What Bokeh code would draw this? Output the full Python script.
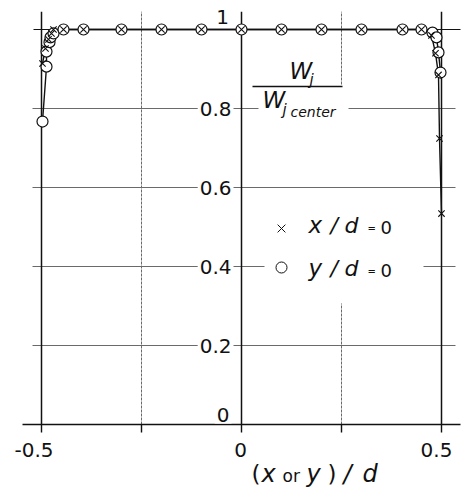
import numpy as np
from bokeh.plotting import figure
from bokeh.models import Label, Range1d
from bokeh.embed import file_html
from bokeh.resources import INLINE

# Jet width ratio W_j / W_j,center across the nozzle
# traverse at x/d = 0 (position is y/d)
xd0_pos = [-0.4975, -0.49, -0.4825, -0.475, -0.47, -0.445, -0.395, -0.3, -0.2, -0.1, 0.0,
           0.1, 0.2, 0.3, 0.4025, 0.45, 0.475, 0.485, 0.4925, 0.495, 0.5]
xd0_w = [0.914, 0.952, 0.975, 0.99, 1.0, 1.0, 1.0, 1.0, 1.0, 1.0, 1.0,
         1.0, 1.0, 1.0, 1.0, 1.0, 0.985, 0.94, 0.885, 0.724, 0.534]

# traverse at y/d = 0 (position is x/d)
yd0_pos = [-0.4975, -0.4875, -0.4875, -0.48, -0.4775, -0.47, -0.445, -0.395, -0.3, -0.2, -0.1,
           0.0, 0.1, 0.2, 0.3, 0.4025, 0.45, 0.4775, 0.4875, 0.4925, 0.4975]
yd0_w = [0.767, 0.906, 0.944, 0.968, 0.98, 0.99, 1.0, 1.0, 1.0, 1.0, 1.0,
         1.0, 1.0, 1.0, 1.0, 1.0, 1.0, 0.992, 0.98, 0.942, 0.891]

x_ticks = [-0.5, -0.25, 0.0, 0.25, 0.5]
x_tick_labels = ["-0.5", "", "0", "", "0.5"]
y_ticks = [0.0, 0.2, 0.4, 0.6, 0.8, 1.0]
y_tick_labels = ["0", "0.2", "0.4", "0.6", "0.8", "1"]

# canvas geometry: pixel <-> data conversion
W, H = 462, 488
X_ZERO_PX, X_SCALE = 241, 400
Y_ZERO_PX, Y_SCALE = 424, 395


def xd(px):
    return (px - X_ZERO_PX) / X_SCALE


def yd(py):
    return (Y_ZERO_PX - py) / Y_SCALE


def ypx(v):
    return Y_ZERO_PX - v * Y_SCALE


p = figure(width=W, height=H, output_backend="svg", toolbar_location=None,
           x_range=Range1d(xd(0), xd(W)), y_range=Range1d(yd(H), yd(0)),
           x_axis_location=None, y_axis_location=None, min_border=0)
p.outline_line_color = None
p.grid.visible = False
p.background_fill_color = "white"
p.border_fill_color = "white"

INK = "#111111"
GRID = "#6a6a6a"
FONT = "DejaVu Sans"
TOP = 1.045

# horizontal grid lines
gy = [t for t in y_ticks if 0 < t < 1]
p.segment(x0=[xd(32)] * len(gy), x1=[xd(455)] * len(gy), y0=gy, y1=gy,
          line_color=GRID, line_width=1)
p.segment(x0=[xd(33)], x1=[xd(460)], y0=[1.0], y1=[1.0], line_color=INK, line_width=1)

# vertical grid lines at +-0.25
p.segment(x0=[-0.25], x1=[-0.25], y0=[0.0], y1=[TOP], line_color=GRID, line_width=1,
          line_dash="3 1")
p.segment(x0=[0.25, 0.25], x1=[0.25, 0.25], y0=[0.0, yd(84)], y1=[yd(303), TOP],
          line_color=GRID, line_width=1, line_dash="3 1")

# white patches behind the lettering
p.quad(left=[xd(264), xd(258)], right=[xd(423), xd(348)],
       bottom=[yd(284), yd(122)], top=[yd(256), yd(92)],
       fill_color="white", line_color=None)

# frame verticals and base line
for xv in [-0.5, 0.0, 0.5]:
    p.segment(x0=[xv], x1=[xv], y0=[0.0], y1=[TOP], line_color=INK, line_width=1.5)
p.segment(x0=[xd(22)], x1=[xd(460)], y0=[0.0], y1=[0.0], line_color=INK, line_width=1.6)
p.segment(x0=x_ticks, x1=x_ticks, y0=[0.0] * len(x_ticks),
          y1=[yd(Y_ZERO_PX + 8)] * len(x_ticks), line_color=INK, line_width=1.4)

# data
p.line(yd0_pos, yd0_w, line_color=INK, line_width=1.4)
p.line(xd0_pos, xd0_w, line_color=INK, line_width=1.4)
p.scatter(yd0_pos, yd0_w, marker="circle", size=11, fill_color="white",
          line_color=INK, line_width=1.2)
p.scatter(xd0_pos, xd0_w, marker="x", size=9, line_color=INK, line_width=1.1)

# legend symbols
p.scatter([xd(281)], [yd(228)], marker="x", size=11, line_color=INK, line_width=1)
p.scatter([xd(281)], [yd(267)], marker="circle", size=11, fill_color="white",
          line_color=INK, line_width=1)

# fraction bar of the ordinate label
p.segment(x0=[xd(252)], x1=[xd(342)], y0=[yd(86)], y1=[yd(86)], line_color=INK, line_width=1.5)


def put(text, px, base, size, align="left", italic=False, bg=False, mid=False):
    """Place text; `base` is the baseline pixel row (or the centre row if mid=True)."""
    centre = base if mid else base - 0.36 * size
    lab = Label(x=xd(px), y=yd(centre), text=text, text_font=FONT, text_font_size=f"{size}px",
                text_align=align, text_baseline="middle", text_color=INK,
                text_font_style="italic" if italic else "normal")
    if bg:
        lab.background_fill_color = "white"
        lab.padding = 2
    p.add_layout(lab)


# ordinate tick labels, lettered beside the centre line
for t, lab in zip(y_ticks, y_tick_labels):
    if t == 0:
        put(lab, 231, 414, 20, align="right", bg=True, mid=True)
    elif t == 1:
        put(lab, 222, 16, 20, align="center", bg=True, mid=True)
    else:
        put(lab, 233, ypx(t), 20, align="right", bg=True, mid=True)

# abscissa tick labels
for t, lab in zip(x_ticks, x_tick_labels):
    if not lab:
        continue
    if t < 0:
        put(lab, 53, 457, 20, align="right")
    elif t == 0:
        put(lab, 240, 457, 20, align="center")
    else:
        put(lab, 436, 457, 20, align="center")

# abscissa title: (x or y)/d
put("(", 251, 482, 23)
put("x", 261, 482, 24, italic=True)
put("or", 282, 482, 17)
put("y", 306, 482, 24, italic=True)
put(")", 327, 482, 23)
put("/", 343, 482, 24, italic=True)
put("d", 362, 482, 24, italic=True)

# ordinate title W_j / W_j center
put("W", 289, 79, 23, italic=True)
put("j", 309, 85, 15, italic=True)
put("W", 262, 108, 23, italic=True)
put("j", 282, 115, 15, italic=True)
put("center", 290, 117, 14, italic=True)

# legend texts
for base, var in [(233, "x"), (276, "y")]:
    put(var, 308, base, 23, italic=True)
    put("/", 330, base, 22, italic=True)
    put("d", 344, base, 22, italic=True)
    put("=", 367, base - 1, 10)
    put("0", 380, base, 18)

open("out.html", "w").write(file_html(p, INLINE))
